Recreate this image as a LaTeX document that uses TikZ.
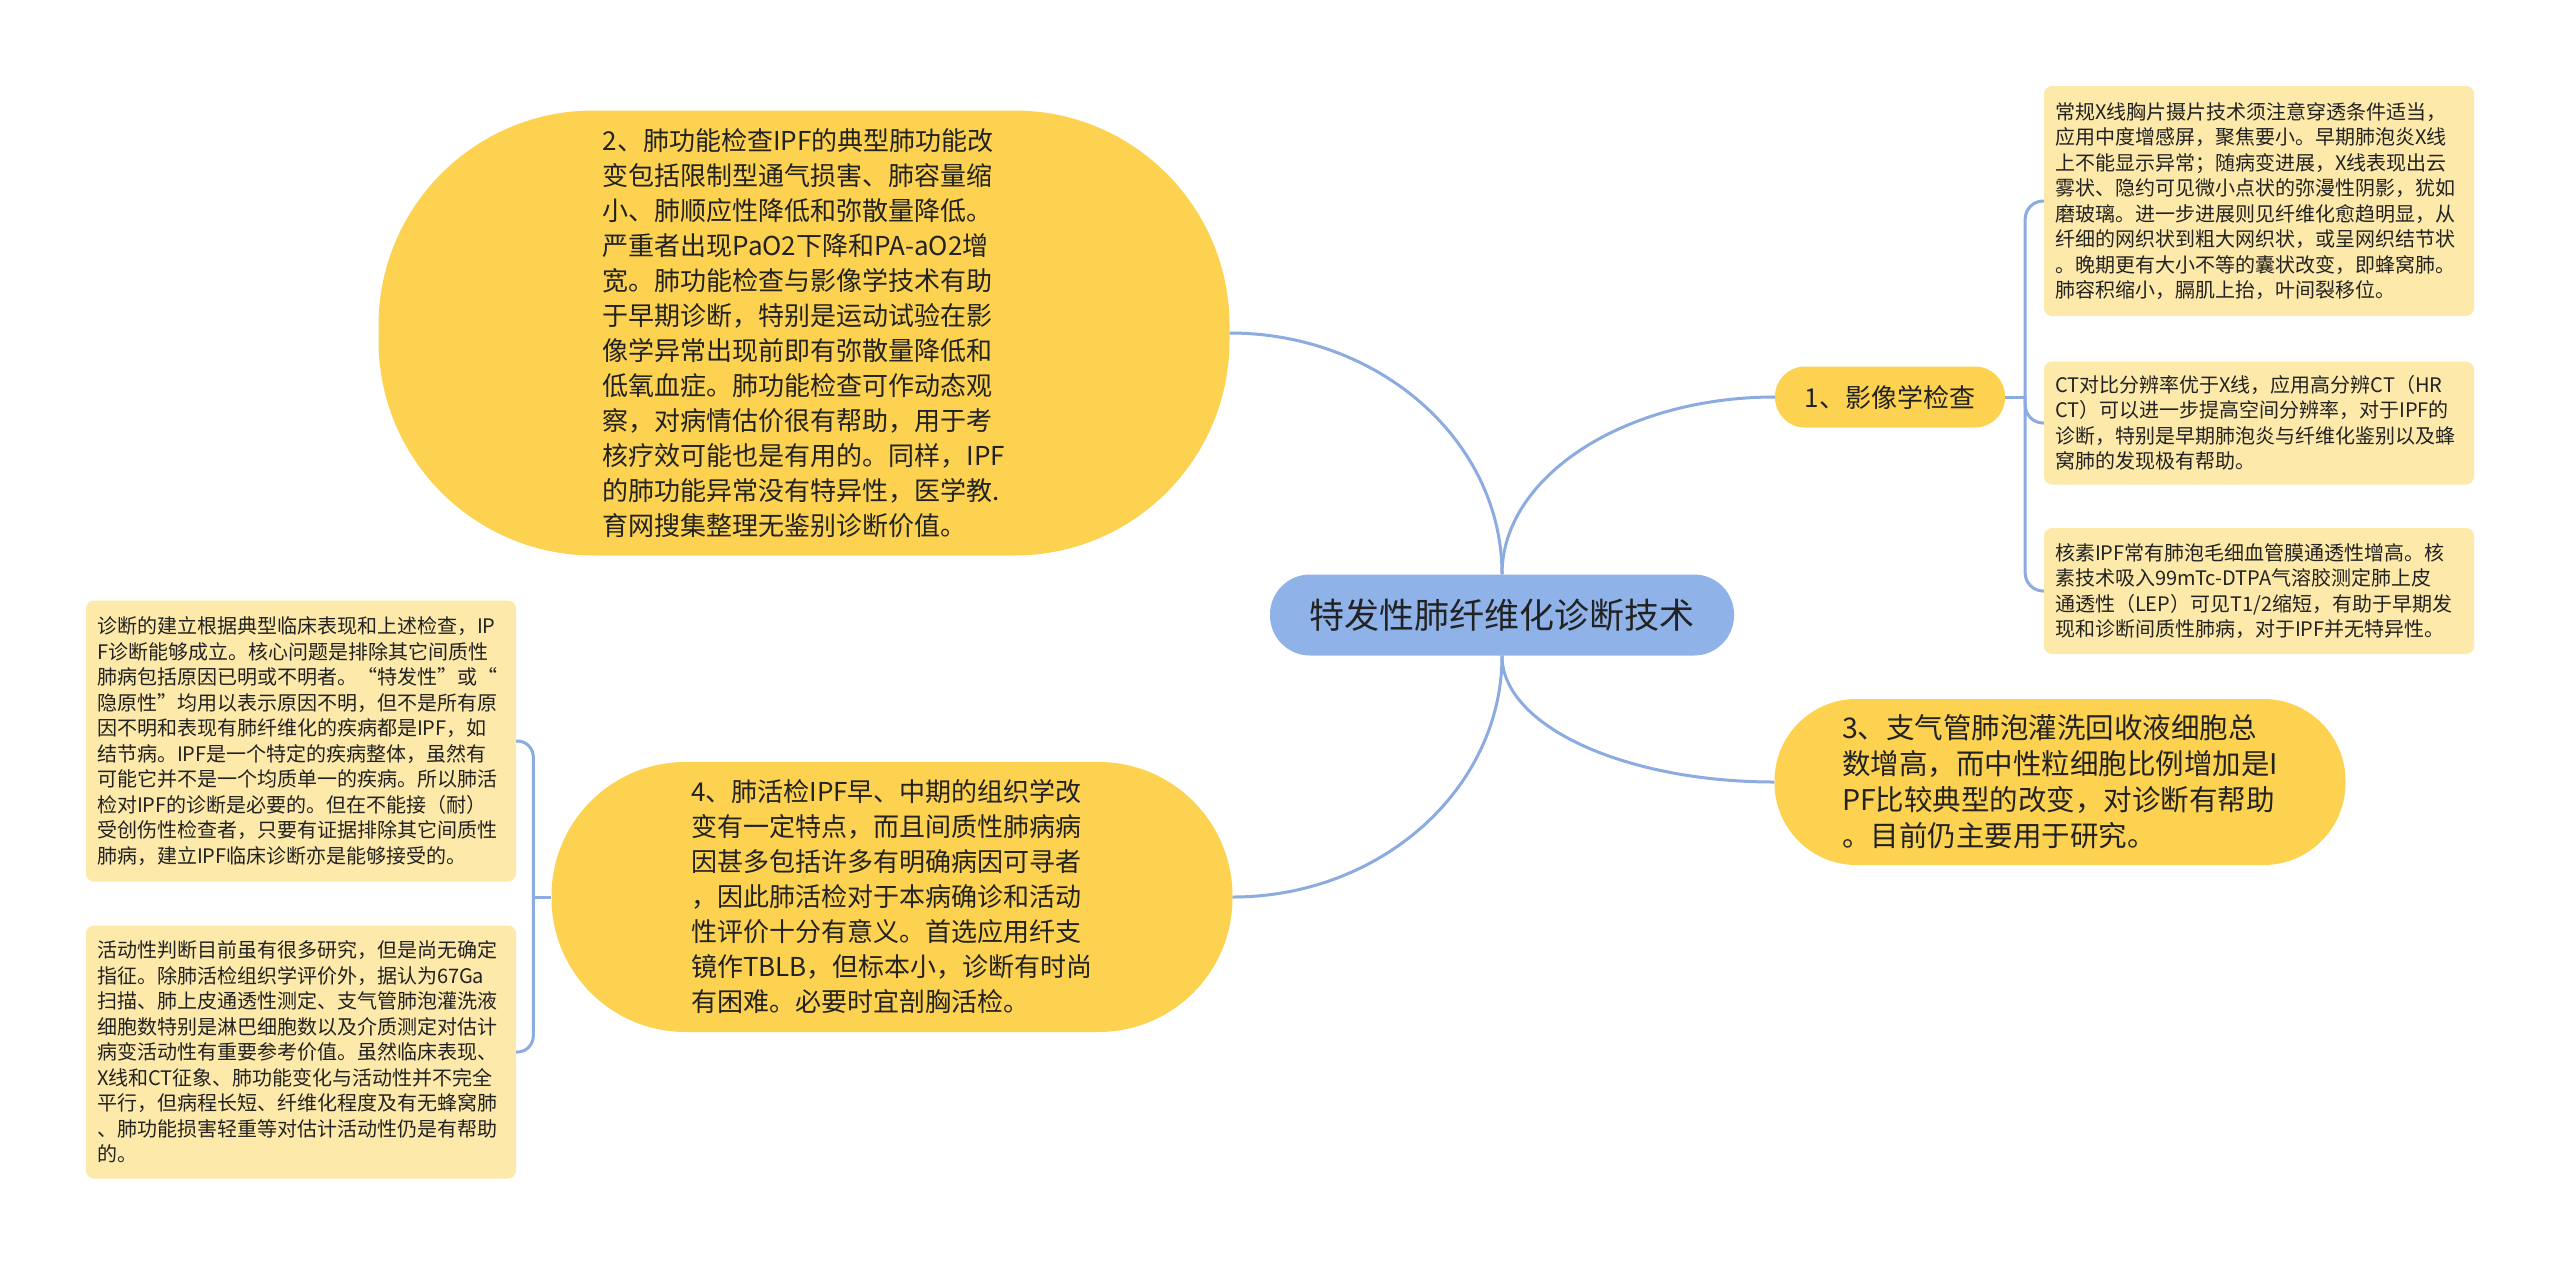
\documentclass[tikz,border=0pt]{standalone}
\usepackage{fontspec}
\setmainfont{Noto Sans CJK SC}
\usetikzlibrary{positioning}
\definecolor{topicyellow}{RGB}{252,210,80}
\definecolor{noteyellow}{RGB}{253,233,170}
\definecolor{rootblue}{RGB}{143,179,233}
\definecolor{linkblue}{RGB}{140,171,225}
\definecolor{textdark}{RGB}{34,34,34}
\tikzset{
  topic/.style={fill=topicyellow, text=textdark, inner sep=0pt, align=left, font=\fontsize{26}{35}\selectfont},
  note/.style={fill=noteyellow, text=textdark, rounded corners=8pt, inner xsep=11pt, inner ysep=0pt, align=left, text width=408pt, font=\fontsize{20}{25.5}\selectfont},
  link/.style={draw=linkblue, line width=3pt},
}
\begin{document}
\begin{tikzpicture}[x=1pt,y=-1pt]
\fill[white] (0,0) rectangle (2560,1270);
\useasboundingbox (0,0) rectangle (2560,1270);

\node[fill=rootblue, text=textdark, rounded corners=40pt, minimum width=464pt, minimum height=81pt, font=\fontsize{35}{40}\selectfont] (root) at (1502,615) {特发性肺纤维化诊断技术};

\node[topic, rounded corners=215pt, minimum width=851pt, minimum height=445pt] (func) at (804,333) {2、肺功能检查IPF的典型肺功能改\\变包括限制型通气损害、肺容量缩\\小、肺顺应性降低和弥散量降低。\\严重者出现PaO2下降和PA-aO2增\\宽。肺功能检查与影像学技术有助\\于早期诊断，特别是运动试验在影\\像学异常出现前即有弥散量降低和\\低氧血症。肺功能检查可作动态观\\察，对病情估价很有帮助，用于考\\核疗效可能也是有用的。同样，IPF\\的肺功能异常没有特异性，医学教.\\育网搜集整理无鉴别诊断价值。};
\node[topic, rounded corners=134pt, minimum width=681pt, minimum height=270pt] (biopsy) at (892,897) {4、肺活检IPF早、中期的组织学改\\变有一定特点，而且间质性肺病病\\因甚多包括许多有明确病因可寻者\\，因此肺活检对于本病确诊和活动\\性评价十分有意义。首选应用纤支\\镜作TBLB，但标本小，诊断有时尚\\有困难。必要时宜剖胸活检。};
\node[topic, rounded corners=82pt, minimum width=571pt, minimum height=166pt, font=\fontsize{28.5}{36}\selectfont] (bal) at (2060,782) {3、支气管肺泡灌洗回收液细胞总\\数增高，而中性粒细胞比例增加是I\\PF比较典型的改变，对诊断有帮助\\。目前仍主要用于研究。};
\node[topic, rounded corners=30pt, minimum width=230pt, minimum height=61pt] (img) at (1890,397) {1、影像学检查};

\node[note, minimum height=230pt] (xray) at (2259,201) {常规X线胸片摄片技术须注意穿透条件适当，\\应用中度增感屏，聚焦要小。早期肺泡炎X线\\上不能显示异常；随病变进展，X线表现出云\\雾状、隐约可见微小点状的弥漫性阴影，犹如\\磨玻璃。进一步进展则见纤维化愈趋明显，从\\纤细的网织状到粗大网织状，或呈网织结节状\\。晚期更有大小不等的囊状改变，即蜂窝肺。\\肺容积缩小，膈肌上抬，叶间裂移位。};
\node[note, minimum height=123pt] (ct) at (2259,423) {CT对比分辨率优于X线，应用高分辨CT（HR\\CT）可以进一步提高空间分辨率，对于IPF的\\诊断，特别是早期肺泡炎与纤维化鉴别以及蜂\\窝肺的发现极有帮助。};
\node[note, minimum height=126pt] (nuc) at (2259,591) {核素IPF常有肺泡毛细血管膜通透性增高。核\\素技术吸入99mTc-DTPA气溶胶测定肺上皮\\通透性（LEP）可见T1/2缩短，有助于早期发\\现和诊断间质性肺病，对于IPF并无特异性。};
\node[note, minimum height=281pt] (diag) at (301,741) {诊断的建立根据典型临床表现和上述检查，IP\\F诊断能够成立。核心问题是排除其它间质性\\肺病包括原因已明或不明者。“特发性”或“\\隐原性”均用以表示原因不明，但不是所有原\\因不明和表现有肺纤维化的疾病都是IPF，如\\结节病。IPF是一个特定的疾病整体，虽然有\\可能它并不是一个均质单一的疾病。所以肺活\\检对IPF的诊断是必要的。但在不能接（耐）\\受创伤性检查者，只要有证据排除其它间质性\\肺病，建立IPF临床诊断亦是能够接受的。};
\node[note, minimum height=253pt] (act) at (301,1052) {活动性判断目前虽有很多研究，但是尚无确定\\指征。除肺活检组织学评价外，据认为67Ga\\扫描、肺上皮通透性测定、支气管肺泡灌洗液\\细胞数特别是淋巴细胞数以及介质测定对估计\\病变活动性有重要参考价值。虽然临床表现、\\X线和CT征象、肺功能变化与活动性并不完全\\平行，但病程长短、纤维化程度及有无蜂窝肺\\、肺功能损害轻重等对估计活动性仍是有帮助\\的。};

\draw[link] (root.north) .. controls +(0,-133) and +(150,0) .. (func.east);
\draw[link] (root.north) .. controls +(0,-98) and +(-150,0) .. (img.west);
\draw[link] (root.south) .. controls +(0,133) and +(148,0) .. (biopsy.east);
\draw[link] (root.south) .. controls +(0,70) and +(-150,0) .. (bal.west);

\coordinate[right=20pt of img] (imgfork);
\draw[link] (img.east) -- (imgfork);
\draw[link, rounded corners=18pt] (imgfork) |- (xray.west);
\draw[link, rounded corners=18pt] (imgfork) |- (ct.west);
\draw[link, rounded corners=18pt] (imgfork) |- (nuc.west);

\coordinate[left=18pt of biopsy] (biofork);
\draw[link] (biopsy.west) -- (biofork);
\draw[link, rounded corners=16pt] (biofork) |- (diag.east);
\draw[link, rounded corners=16pt] (biofork) |- (act.east);
\end{tikzpicture}
\end{document}
